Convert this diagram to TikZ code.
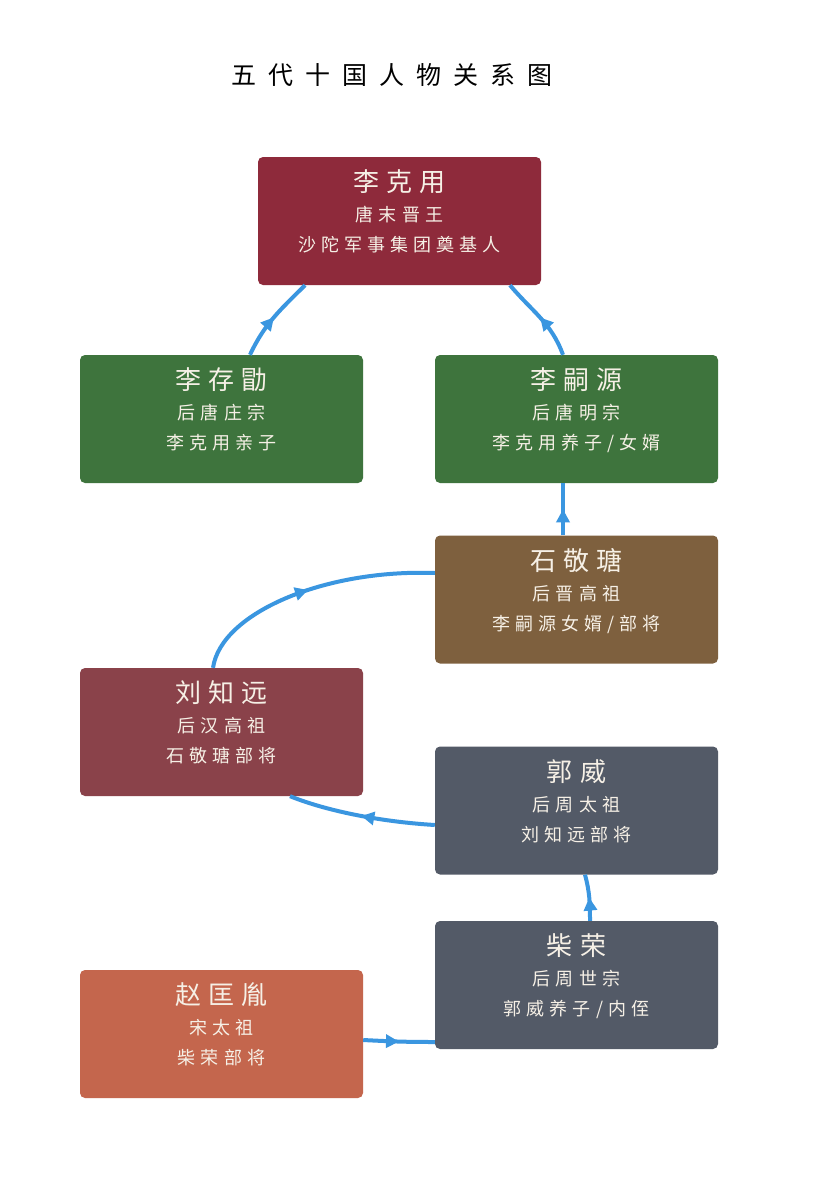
\documentclass[tikz,border=0pt]{standalone}
\usepackage{fontspec}
\setmainfont{Noto Sans CJK SC}
\newfontfamily\titlefont[LetterSpace=48]{Noto Sans CJK SC}
\newfontfamily\cardfont[LetterSpace=28]{Noto Sans CJK SC}
\usepackage{tikz}
\usetikzlibrary{arrows.meta,decorations.markings}
\definecolor{tangred}{HTML}{8E2A3B}
\definecolor{tanggreen}{HTML}{3E743D}
\definecolor{jinbrown}{HTML}{7E603E}
\definecolor{hanred}{HTML}{8A424A}
\definecolor{zhouslate}{HTML}{535A67}
\definecolor{songorange}{HTML}{C4664D}
\definecolor{linkblue}{HTML}{3A96E0}
\definecolor{cardtext}{HTML}{F6F0E6}
\newcommand{\namesize}{\fontsize{26}{32}\selectfont}
\newcommand{\cardpad}{\rule[-20pt]{0pt}{20pt}}
\tikzset{
  person/.style={rectangle, rounded corners=5pt, minimum width=283pt, minimum height=128pt,
    inner sep=0pt, align=center, text=cardtext, font=\cardfont\fontsize{18}{30}\selectfont},
  link/.style={line width=4pt, draw=linkblue, postaction={decorate},
    decoration={markings, mark=at position 0.5 with {\arrow{Triangle[length=13pt,width=13pt]}}}}
}

\begin{document}
\begin{tikzpicture}[x=1pt,y=-1pt]
\fill[white] (0,0) rectangle (815,1180);
\node[text=black, font=\titlefont\fontsize{25}{30}\selectfont] (title) at (392,75) {五代十国人物关系图};
% persons
\node[person, fill=tangred] (likeyong) at (399.5,221) {{\namesize 李克用}\\唐末晋王\\沙陀军事集团奠基人\cardpad};
\node[person, fill=tanggreen] (licunxu) at (221.5,419) {{\namesize 李存勖}\\后唐庄宗\\李克用亲子\cardpad};
\node[person, fill=tanggreen] (lisiyuan) at (576.5,419) {{\namesize 李嗣源}\\后唐明宗\\李克用养子/女婿\cardpad};
\node[person, fill=jinbrown] (shijingtang) at (576.5,599.5) {{\namesize 石敬瑭}\\后晋高祖\\李嗣源女婿/部将\cardpad};
\node[person, fill=hanred] (liuzhiyuan) at (221.5,732) {{\namesize 刘知远}\\后汉高祖\\石敬瑭部将\cardpad};
\node[person, fill=zhouslate] (guowei) at (576.5,810.5) {{\namesize 郭威}\\后周太祖\\刘知远部将\cardpad};
\node[person, fill=zhouslate] (chairong) at (576.5,985) {{\namesize 柴荣}\\后周世宗\\郭威养子/内侄\cardpad};
\node[person, fill=songorange] (zhaokuangyin) at (221.5,1034) {{\namesize 赵匡胤}\\宋太祖\\柴荣部将\cardpad};
% links
\draw[link] ([xshift=28.5pt]licunxu.north) to[out=65,in=-135] ([xshift=-94.5pt]likeyong.south);
\draw[link] ([xshift=-13.5pt]lisiyuan.north) to[out=110,in=-50] ([xshift=110.5pt]likeyong.south);
\draw[link] ([xshift=-13.5pt]shijingtang.north) -- ([xshift=-13.5pt]lisiyuan.south);
\draw[link] ([xshift=-8.5pt]liuzhiyuan.north) .. controls +(8,-55) and +(-110,-4) .. ([yshift=26.5pt]shijingtang.west);
\draw[link] ([yshift=-14.5pt]guowei.west) .. controls +(-50,-3) and +(40,16) .. ([xshift=68.5pt]liuzhiyuan.south);
\draw[link] ([xshift=13.5pt]chairong.north) to[out=90,in=-75] ([xshift=8.5pt]guowei.south);
\draw[link] ([yshift=-6pt]zhaokuangyin.east) to[out=-3,in=180] ([yshift=-57pt]chairong.west);
\end{tikzpicture}
\end{document}
